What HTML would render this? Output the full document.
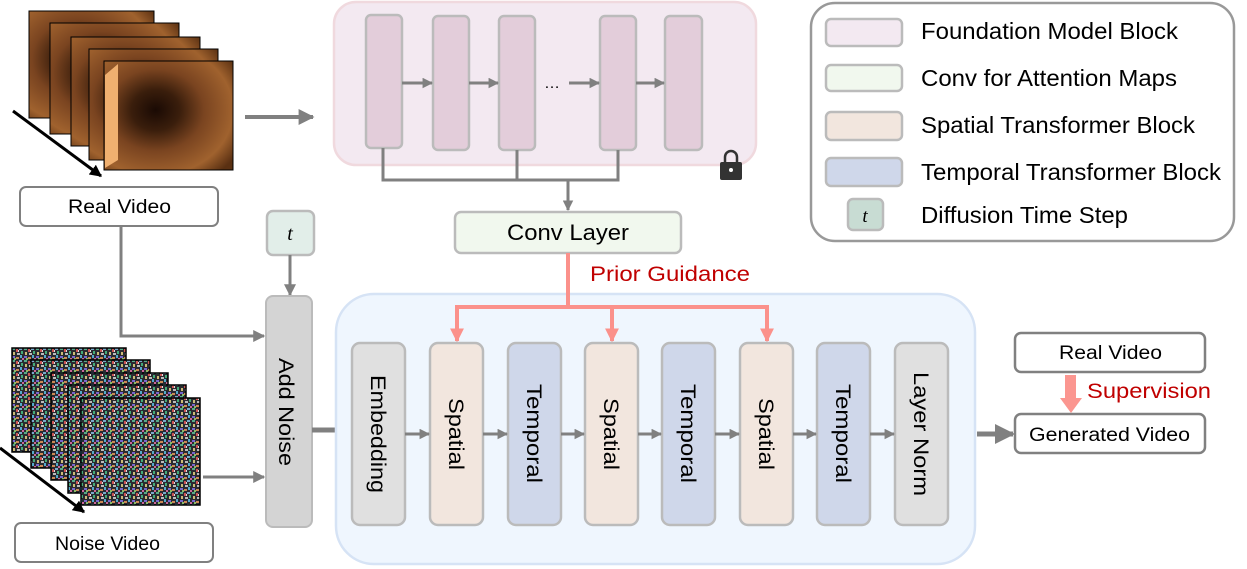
<!DOCTYPE html>
<html><head><meta charset="utf-8"><style>
html,body{margin:0;padding:0;background:#fff;}
svg{display:block;font-family:"Liberation Sans",sans-serif;}
</style></head><body>
<svg width="1247" height="569" viewBox="0 0 1247 569" xmlns="http://www.w3.org/2000/svg">
<defs>
<marker id="ag" viewBox="0 0 10 10" refX="9" refY="5" markerWidth="4" markerHeight="4" orient="auto"><path d="M0,0L10,5L0,10z" fill="#808080"/></marker>
<marker id="ab" viewBox="0 0 10 10" refX="9" refY="5" markerWidth="3.5" markerHeight="3.5" orient="auto"><path d="M0,0L10,5L0,10z" fill="#808080"/></marker>
<marker id="ap" viewBox="0 0 10 10" refX="9" refY="5" markerWidth="3.5" markerHeight="3.5" orient="auto"><path d="M0,0L10,5L0,10z" fill="#fb918b"/></marker>
<marker id="ak" viewBox="0 0 10 10" refX="9" refY="5" markerWidth="4" markerHeight="4" orient="auto"><path d="M0,0L10,5L0,10z" fill="#000"/></marker>
<radialGradient id="col" cx="0.4" cy="0.45" r="0.75">
<stop offset="0" stop-color="#1a0a04"/><stop offset="0.25" stop-color="#3a1e0c"/><stop offset="0.5" stop-color="#7a4420"/><stop offset="0.8" stop-color="#a0622e"/><stop offset="1" stop-color="#5a3012"/></radialGradient>
<pattern id="noise" width="12" height="12" patternUnits="userSpaceOnUse">
<rect width="12" height="12" fill="#2a2a30"/>
<rect x="0" y="0" width="3" height="2" fill="#5a8"/><rect x="4" y="1" width="2" height="3" fill="#c55"/>
<rect x="7" y="0" width="3" height="2" fill="#7ac"/><rect x="1" y="4" width="2" height="3" fill="#cb7"/>
<rect x="5" y="5" width="3" height="2" fill="#bbb"/><rect x="9" y="3" width="2" height="3" fill="#4a7"/>
<rect x="0" y="8" width="3" height="2" fill="#76c"/><rect x="4" y="9" width="3" height="2" fill="#c85"/>
<rect x="8" y="7" width="2" height="3" fill="#5ac"/><rect x="10" y="10" width="2" height="2" fill="#c69"/>
<rect x="2" y="10" width="2" height="2" fill="#8b6"/><rect x="6" y="2" width="1" height="2" fill="#ddd"/>
</pattern>
</defs>

<!-- real video frames -->
<g stroke="#000" stroke-width="1">
<rect x="29" y="11" width="125" height="107" fill="url(#col)"/>
<rect x="50" y="23" width="129" height="111" fill="url(#col)"/>
<rect x="71" y="37" width="129" height="109" fill="url(#col)"/>
<rect x="89" y="49" width="129" height="111" fill="url(#col)"/>
<rect x="104" y="61" width="129" height="109" fill="url(#col)"/>
</g>
<path d="M105,75 L118,64 L118,160 L105,168z" fill="#f0b070"/>
<line x1="13" y1="111" x2="101" y2="176" stroke="#000" stroke-width="3" marker-end="url(#ak)"/>
<line x1="245" y1="117" x2="313" y2="117" stroke="#808080" stroke-width="4" marker-end="url(#ag)"/>

<rect x="20" y="187" width="198" height="39" rx="6" fill="#fff" stroke="#808080" stroke-width="2"/>
<text x="68" y="213" font-size="19" textLength="103" lengthAdjust="spacingAndGlyphs">Real Video</text>

<!-- noise frames -->
<g stroke="#000" stroke-width="1.5">
<rect x="12" y="348" width="114" height="104" fill="url(#noise)"/>
<rect x="31" y="360" width="119" height="108" fill="url(#noise)"/>
<rect x="51" y="373" width="117" height="107" fill="url(#noise)"/>
<rect x="68" y="385" width="118" height="108" fill="url(#noise)"/>
<rect x="81" y="398" width="119" height="107" fill="url(#noise)"/>
</g>
<line x1="0" y1="448" x2="84" y2="512" stroke="#000" stroke-width="3" marker-end="url(#ak)"/>
<rect x="15" y="523" width="198" height="39" rx="6" fill="#fff" stroke="#808080" stroke-width="2"/>
<text x="55" y="550" font-size="19" textLength="105" lengthAdjust="spacingAndGlyphs">Noise Video</text>

<!-- connectors to add noise -->
<polyline points="121,226 121,336 264,336" fill="none" stroke="#808080" stroke-width="3" marker-end="url(#ag)"/>
<line x1="203" y1="477" x2="264" y2="477" stroke="#808080" stroke-width="3" marker-end="url(#ag)"/>

<rect x="267" y="211" width="47" height="44" rx="6" fill="#e2eee9" stroke="#bbb" stroke-width="2.5"/>
<text x="290" y="240" font-size="20" font-style="italic" font-family="Liberation Serif,serif" text-anchor="middle">t</text>
<line x1="290" y1="255" x2="290" y2="295" stroke="#808080" stroke-width="3" marker-end="url(#ag)"/>

<rect x="266" y="296" width="46" height="231" rx="7" fill="#d4d4d4" stroke="#bbb" stroke-width="2"/>
<text transform="translate(279,358) rotate(90)" font-size="21" textLength="108" lengthAdjust="spacingAndGlyphs">Add Noise</text>
<line x1="312" y1="430" x2="336" y2="430" stroke="#808080" stroke-width="5"/>

<!-- foundation model -->
<rect x="334" y="2" width="422" height="163" rx="22" fill="#f3e9f1" stroke="#f0d9de" stroke-width="2.5"/>
<g fill="#e3cdda" stroke="#bbb" stroke-width="2.5">
<rect x="366" y="15" width="36" height="133" rx="5"/>
<rect x="433" y="16" width="36" height="134" rx="5"/>
<rect x="499" y="16" width="36" height="134" rx="5"/>
<rect x="600" y="16" width="36" height="134" rx="5"/>
<rect x="665" y="16" width="37" height="134" rx="5"/>
</g>
<g stroke="#808080" stroke-width="3" marker-end="url(#ab)">
<line x1="402" y1="83" x2="432" y2="83"/>
<line x1="469" y1="83" x2="498" y2="83"/>
<line x1="569" y1="83" x2="599" y2="83"/>
<line x1="636" y1="83" x2="664" y2="83"/>
</g>
<text x="552" y="88" font-size="16" text-anchor="middle">…</text>
<polyline points="383,148 383,180 618,180 618,150" fill="none" stroke="#808080" stroke-width="3"/>
<line x1="517" y1="150" x2="517" y2="180" stroke="#808080" stroke-width="3"/>
<line x1="568" y1="180" x2="568" y2="210" stroke="#808080" stroke-width="3" marker-end="url(#ab)"/>
<!-- lock -->
<path d="M725,162 v-5 a6,6 0 0 1 12,0 v5" fill="none" stroke="#333" stroke-width="2.5"/>
<rect x="720" y="162" width="22" height="18" rx="2" fill="#333"/>
<circle cx="731" cy="170" r="2" fill="#fff"/>

<rect x="455" y="212" width="226" height="41" rx="6" fill="#f1f8ee" stroke="#bbb" stroke-width="2.5"/>
<text x="507" y="240" font-size="22" textLength="122" lengthAdjust="spacingAndGlyphs">Conv Layer</text>

<!-- main blue box -->
<rect x="336" y="294" width="639" height="270" rx="38" fill="#eff6fe" stroke="#d6e3f5" stroke-width="2.5"/>

<!-- prior guidance -->
<polyline points="568,253 568,307" fill="none" stroke="#fb918b" stroke-width="4"/>
<polyline points="457,341 457,307 767,307 767,341" fill="none" stroke="#fb918b" stroke-width="4" marker-end="url(#ap)"/>
<line x1="457" y1="320" x2="457" y2="341" stroke="#fb918b" stroke-width="4" marker-end="url(#ap)"/>
<line x1="612" y1="307" x2="612" y2="341" stroke="#fb918b" stroke-width="4" marker-end="url(#ap)"/>
<text x="590" y="281" font-size="21" fill="#c00000" textLength="160" lengthAdjust="spacingAndGlyphs">Prior Guidance</text>

<!-- blocks -->
<g stroke="#bbb" stroke-width="2.5">
<rect x="352" y="343" width="53" height="182" rx="8" fill="#e0e0e0"/>
<rect x="430" y="343" width="53" height="182" rx="8" fill="#f2e6de"/>
<rect x="508" y="343" width="53" height="182" rx="8" fill="#cfd7ea"/>
<rect x="585" y="343" width="53" height="182" rx="8" fill="#f2e6de"/>
<rect x="662" y="343" width="53" height="182" rx="8" fill="#cfd7ea"/>
<rect x="740" y="343" width="53" height="182" rx="8" fill="#f2e6de"/>
<rect x="817" y="343" width="53" height="182" rx="8" fill="#cfd7ea"/>
<rect x="895" y="343" width="53" height="182" rx="8" fill="#e0e0e0"/>
</g>
<g font-size="21" lengthAdjust="spacingAndGlyphs">
<text transform="translate(371,375) rotate(90)" textLength="118" lengthAdjust="spacingAndGlyphs">Embedding</text>
<text transform="translate(449,398) rotate(90)" textLength="72" lengthAdjust="spacingAndGlyphs">Spatial</text>
<text transform="translate(527,384) rotate(90)" textLength="99" lengthAdjust="spacingAndGlyphs">Temporal</text>
<text transform="translate(604,398) rotate(90)" textLength="72" lengthAdjust="spacingAndGlyphs">Spatial</text>
<text transform="translate(681,384) rotate(90)" textLength="99" lengthAdjust="spacingAndGlyphs">Temporal</text>
<text transform="translate(759,398) rotate(90)" textLength="72" lengthAdjust="spacingAndGlyphs">Spatial</text>
<text transform="translate(836,384) rotate(90)" textLength="99" lengthAdjust="spacingAndGlyphs">Temporal</text>
<text transform="translate(914,372) rotate(90)" textLength="124" lengthAdjust="spacingAndGlyphs">Layer Norm</text>
</g>
<g stroke="#808080" stroke-width="3" marker-end="url(#ab)">
<line x1="405" y1="434" x2="429" y2="434"/>
<line x1="483" y1="434" x2="507" y2="434"/>
<line x1="561" y1="434" x2="584" y2="434"/>
<line x1="638" y1="434" x2="661" y2="434"/>
<line x1="715" y1="434" x2="739" y2="434"/>
<line x1="793" y1="434" x2="816" y2="434"/>
<line x1="870" y1="434" x2="894" y2="434"/>
</g>
<line x1="977" y1="434" x2="1013" y2="434" stroke="#808080" stroke-width="5" marker-end="url(#ag)"/>

<rect x="1015" y="333" width="190" height="39" rx="6" fill="#fff" stroke="#808080" stroke-width="2.5"/>
<text x="1059" y="359" font-size="19" textLength="103" lengthAdjust="spacingAndGlyphs">Real Video</text>
<rect x="1015" y="414" width="190" height="39" rx="6" fill="#fff" stroke="#808080" stroke-width="2.5"/>
<text x="1029" y="441" font-size="19" textLength="161" lengthAdjust="spacingAndGlyphs">Generated Video</text>
<rect x="1065" y="375" width="11" height="23" fill="#fb9690"/>
<path d="M1060,398 L1082,398 L1071,413z" fill="#fb9690"/>
<text x="1087" y="398" font-size="21" fill="#c00000" textLength="124" lengthAdjust="spacingAndGlyphs">Supervision</text>

<!-- legend -->
<rect x="811" y="3" width="423" height="238" rx="24" fill="#fff" stroke="#999" stroke-width="2.5"/>
<g stroke="#bbb" stroke-width="2.5">
<rect x="826" y="19" width="76" height="27" rx="5" fill="#f3e9f1"/>
<rect x="826" y="65" width="76" height="26" rx="5" fill="#f1f8ee"/>
<rect x="826" y="112" width="76" height="28" rx="5" fill="#f2e6de"/>
<rect x="826" y="158" width="76" height="28" rx="5" fill="#cfd7ea"/>
<rect x="848" y="199" width="35" height="31" rx="5" fill="#c8dcd3"/>
</g>
<text x="865" y="222" font-size="19" font-style="italic" font-family="Liberation Serif,serif" text-anchor="middle">t</text>
<g font-size="23">
<text x="921" y="39" textLength="257" lengthAdjust="spacingAndGlyphs">Foundation Model Block</text>
<text x="921" y="86" textLength="256" lengthAdjust="spacingAndGlyphs">Conv for Attention Maps</text>
<text x="921" y="133" textLength="274" lengthAdjust="spacingAndGlyphs">Spatial Transformer Block</text>
<text x="921" y="180" textLength="300" lengthAdjust="spacingAndGlyphs">Temporal Transformer Block</text>
<text x="921" y="223" textLength="207" lengthAdjust="spacingAndGlyphs">Diffusion Time Step</text>
</g>
</svg>
</body></html>
